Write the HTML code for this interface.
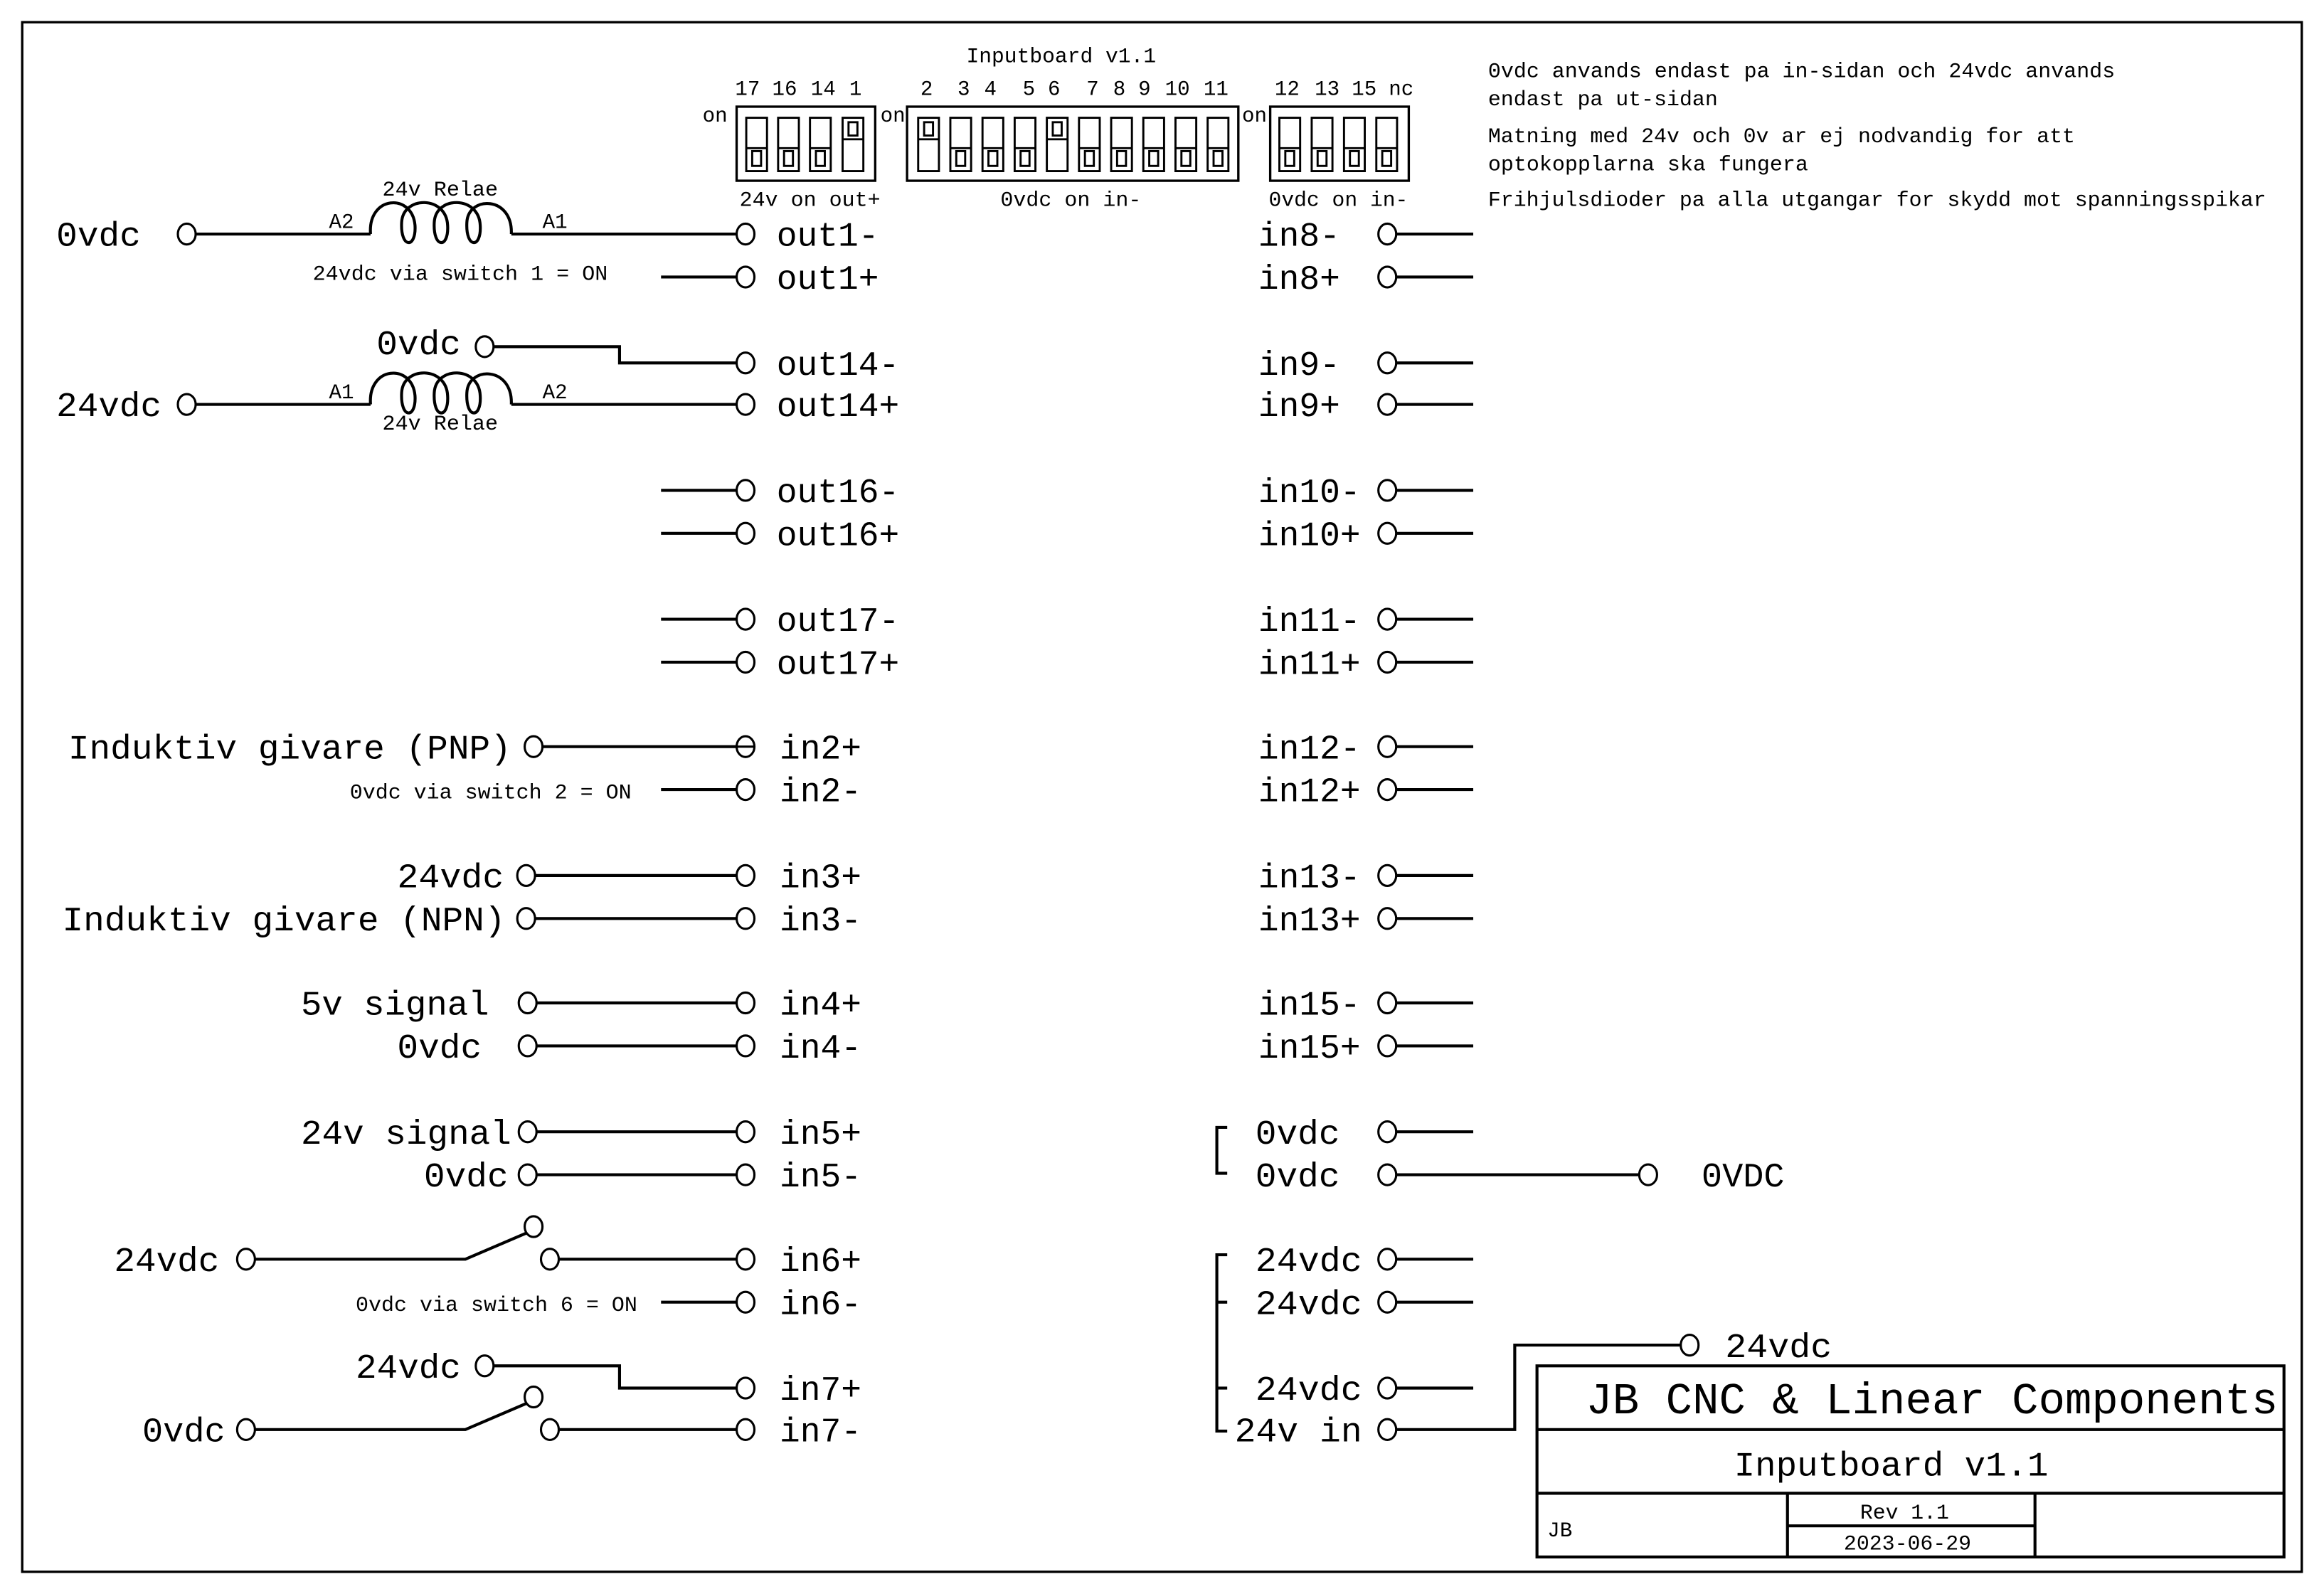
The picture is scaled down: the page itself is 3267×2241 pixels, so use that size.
<!DOCTYPE html>
<html><head><meta charset="utf-8"><style>
html,body{margin:0;padding:0;background:#fff;}
svg{display:block;}
text{font-family:"Liberation Mono","DejaVu Sans Mono",monospace;fill:#000;}
.b{font-size:23px;}
.s{font-size:14px;}
.t{font-size:30px;}
.m{font-size:23px;}
</style></head><body>
<svg width="3267" height="2241" viewBox="0 0 1568 1076" preserveAspectRatio="none" xmlns="http://www.w3.org/2000/svg">
<rect x="0" y="0" width="1568" height="1076" fill="#fff"/>
<g fill="none" stroke="#000" stroke-width="1.6">
<rect x="15" y="15" width="1538" height="1046"/>
<!-- DIP boxes -->
<rect x="497" y="72" width="93.5" height="50"/>
<rect x="612" y="72" width="223.5" height="50"/>
<rect x="857" y="72" width="93.5" height="50"/>
</g>
<g fill="none" stroke="#000" stroke-width="1.4">
<!-- box1 slots: off,off,off,on -->
<rect x="503.5" y="79.5" width="14" height="36"/><line x1="503.5" y1="100" x2="517.5" y2="100"/><rect x="507.5" y="102" width="6" height="10"/>
<rect x="525" y="79.5" width="14" height="36"/><line x1="525" y1="100" x2="539" y2="100"/><rect x="529" y="102" width="6" height="10"/>
<rect x="546.5" y="79.5" width="14" height="36"/><line x1="546.5" y1="100" x2="560.5" y2="100"/><rect x="550.5" y="102" width="6" height="10"/>
<rect x="568.5" y="79.5" width="14" height="36"/><line x1="568.5" y1="94" x2="582.5" y2="94"/><rect x="572.5" y="82.5" width="6" height="9"/>
<!-- box2 -->
<rect x="619.5" y="79.5" width="14" height="36"/><line x1="619.5" y1="94" x2="633.5" y2="94"/><rect x="623.5" y="82.5" width="6" height="9"/>
<rect x="641.2" y="79.5" width="14" height="36"/><line x1="641.2" y1="100" x2="655.2" y2="100"/><rect x="645.2" y="102" width="6" height="10"/>
<rect x="662.9" y="79.5" width="14" height="36"/><line x1="662.9" y1="100" x2="676.9" y2="100"/><rect x="666.9" y="102" width="6" height="10"/>
<rect x="684.6" y="79.5" width="14" height="36"/><line x1="684.6" y1="100" x2="698.6" y2="100"/><rect x="688.6" y="102" width="6" height="10"/>
<rect x="706.3" y="79.5" width="14" height="36"/><line x1="706.3" y1="94" x2="720.3" y2="94"/><rect x="710.3" y="82.5" width="6" height="9"/>
<rect x="728" y="79.5" width="14" height="36"/><line x1="728" y1="100" x2="742" y2="100"/><rect x="732" y="102" width="6" height="10"/>
<rect x="749.7" y="79.5" width="14" height="36"/><line x1="749.7" y1="100" x2="763.7" y2="100"/><rect x="753.7" y="102" width="6" height="10"/>
<rect x="771.4" y="79.5" width="14" height="36"/><line x1="771.4" y1="100" x2="785.4" y2="100"/><rect x="775.4" y="102" width="6" height="10"/>
<rect x="793.1" y="79.5" width="14" height="36"/><line x1="793.1" y1="100" x2="807.1" y2="100"/><rect x="797.1" y="102" width="6" height="10"/>
<rect x="814.8" y="79.5" width="14" height="36"/><line x1="814.8" y1="100" x2="828.8" y2="100"/><rect x="818.8" y="102" width="6" height="10"/>
<!-- box3 -->
<rect x="863.2" y="79.5" width="14" height="36"/><line x1="863.2" y1="100" x2="877.2" y2="100"/><rect x="867.2" y="102" width="6" height="10"/>
<rect x="885" y="79.5" width="14" height="36"/><line x1="885" y1="100" x2="899" y2="100"/><rect x="889" y="102" width="6" height="10"/>
<rect x="906.8" y="79.5" width="14" height="36"/><line x1="906.8" y1="100" x2="920.8" y2="100"/><rect x="910.8" y="102" width="6" height="10"/>
<rect x="928.6" y="79.5" width="14" height="36"/><line x1="928.6" y1="100" x2="942.6" y2="100"/><rect x="932.6" y="102" width="6" height="10"/>
</g>
<g fill="none" stroke="#000" stroke-width="2">
<!-- relay 1 -->
<line x1="126" y1="158" x2="250" y2="158"/><line x1="345" y1="158" x2="503" y2="158"/>
<path d="M250,158 C248,132 278,130 280,152 C281,168 270,168 271,150 C272,132 301,132 302,152 C303,168 292,168 293,150 C294,132 323,132 324,152 C325,168 314,168 315,150 C316,132 346,132 345,158"/>
<line x1="446" y1="187" x2="503" y2="187"/>
<polyline points="327,234 418,234 418,245 503,245"/>
<!-- relay 2 -->
<line x1="126" y1="273" x2="250" y2="273"/><line x1="345" y1="273" x2="503" y2="273"/>
<path d="M250,273 C248,247 278,245 280,267 C281,283 270,283 271,265 C272,247 301,247 302,267 C303,283 292,283 293,265 C294,247 323,247 324,267 C325,283 314,283 315,265 C316,247 346,247 345,273"/>
<line x1="446" y1="331" x2="503" y2="331"/><line x1="446" y1="360" x2="503" y2="360"/>
<line x1="446" y1="418" x2="503" y2="418"/><line x1="446" y1="447" x2="503" y2="447"/>
<line x1="360" y1="504" x2="503" y2="504"/>
<line x1="446" y1="533" x2="503" y2="533"/>
<line x1="355" y1="591" x2="503" y2="591"/><line x1="355" y1="620" x2="503" y2="620"/>
<line x1="356" y1="677" x2="503" y2="677"/><line x1="356" y1="706" x2="503" y2="706"/>
<line x1="356" y1="764" x2="503" y2="764"/><line x1="356" y1="793" x2="503" y2="793"/>
<polyline points="166,850 314,850 356,832"/><line x1="371" y1="850" x2="503" y2="850"/>
<line x1="446" y1="879" x2="503" y2="879"/>
<polyline points="327,922 418,922 418,937 503,937"/>
<polyline points="166,965 314,965 356,947"/><line x1="371" y1="965" x2="503" y2="965"/>
<!-- right side -->
<line x1="936" y1="158" x2="994" y2="158"/><line x1="936" y1="187" x2="994" y2="187"/>
<line x1="936" y1="245" x2="994" y2="245"/><line x1="936" y1="273" x2="994" y2="273"/>
<line x1="936" y1="331" x2="994" y2="331"/><line x1="936" y1="360" x2="994" y2="360"/>
<line x1="936" y1="418" x2="994" y2="418"/><line x1="936" y1="447" x2="994" y2="447"/>
<line x1="936" y1="504" x2="994" y2="504"/><line x1="936" y1="533" x2="994" y2="533"/>
<line x1="936" y1="591" x2="994" y2="591"/><line x1="936" y1="620" x2="994" y2="620"/>
<line x1="936" y1="677" x2="994" y2="677"/><line x1="936" y1="706" x2="994" y2="706"/>
<line x1="936" y1="764" x2="994" y2="764"/><line x1="936" y1="793" x2="1112" y2="793"/>
<line x1="936" y1="850" x2="994" y2="850"/><line x1="936" y1="879" x2="994" y2="879"/>
<line x1="936" y1="937" x2="994" y2="937"/>
<polyline points="936,965 1022,965 1022,908 1140,908"/>
<polyline points="828,761 821,761 821,792 828,792"/>
<polyline points="828,847 821,847 821,966 828,966"/>
<line x1="821" y1="879" x2="828" y2="879"/><line x1="821" y1="937" x2="828" y2="937"/>
<!-- title block -->
<rect x="1037" y="922" width="504" height="129"/>
<line x1="1037" y1="965" x2="1541" y2="965"/><line x1="1037" y1="1008" x2="1541" y2="1008"/>
<line x1="1206" y1="1008" x2="1206" y2="1051"/><line x1="1373" y1="1008" x2="1373" y2="1051"/>
<line x1="1206" y1="1030" x2="1373" y2="1030"/>
</g>
<g fill="#fff" stroke="#000" stroke-width="1.5">
<ellipse cx="126" cy="158" rx="6" ry="7"/><ellipse cx="126" cy="273" rx="6" ry="7"/><ellipse cx="327" cy="234" rx="6" ry="7"/>
<ellipse cx="360" cy="504" rx="6" ry="7"/><ellipse cx="355" cy="591" rx="6" ry="7"/><ellipse cx="355" cy="620" rx="6" ry="7"/>
<ellipse cx="356" cy="677" rx="6" ry="7"/><ellipse cx="356" cy="706" rx="6" ry="7"/><ellipse cx="356" cy="764" rx="6" ry="7"/><ellipse cx="356" cy="793" rx="6" ry="7"/>
<ellipse cx="166" cy="850" rx="6" ry="7"/><ellipse cx="360" cy="828" rx="6" ry="7"/><ellipse cx="371" cy="850" rx="6" ry="7"/>
<ellipse cx="327" cy="922" rx="6" ry="7"/><ellipse cx="166" cy="965" rx="6" ry="7"/><ellipse cx="360" cy="943" rx="6" ry="7"/><ellipse cx="371" cy="965" rx="6" ry="7"/>
<ellipse cx="503" cy="158" rx="6" ry="7"/><ellipse cx="503" cy="187" rx="6" ry="7"/><ellipse cx="503" cy="245" rx="6" ry="7"/><ellipse cx="503" cy="273" rx="6" ry="7"/>
<ellipse cx="503" cy="331" rx="6" ry="7"/><ellipse cx="503" cy="360" rx="6" ry="7"/><ellipse cx="503" cy="418" rx="6" ry="7"/><ellipse cx="503" cy="447" rx="6" ry="7"/>
<ellipse cx="503" cy="504" rx="6" ry="7"/><ellipse cx="503" cy="533" rx="6" ry="7"/><ellipse cx="503" cy="591" rx="6" ry="7"/><ellipse cx="503" cy="620" rx="6" ry="7"/>
<ellipse cx="503" cy="677" rx="6" ry="7"/><ellipse cx="503" cy="706" rx="6" ry="7"/><ellipse cx="503" cy="764" rx="6" ry="7"/><ellipse cx="503" cy="793" rx="6" ry="7"/>
<ellipse cx="503" cy="850" rx="6" ry="7"/><ellipse cx="503" cy="879" rx="6" ry="7"/><ellipse cx="503" cy="937" rx="6" ry="7"/><ellipse cx="503" cy="965" rx="6" ry="7"/>
<ellipse cx="936" cy="158" rx="6" ry="7"/><ellipse cx="936" cy="187" rx="6" ry="7"/><ellipse cx="936" cy="245" rx="6" ry="7"/><ellipse cx="936" cy="273" rx="6" ry="7"/>
<ellipse cx="936" cy="331" rx="6" ry="7"/><ellipse cx="936" cy="360" rx="6" ry="7"/><ellipse cx="936" cy="418" rx="6" ry="7"/><ellipse cx="936" cy="447" rx="6" ry="7"/>
<ellipse cx="936" cy="504" rx="6" ry="7"/><ellipse cx="936" cy="533" rx="6" ry="7"/><ellipse cx="936" cy="591" rx="6" ry="7"/><ellipse cx="936" cy="620" rx="6" ry="7"/>
<ellipse cx="936" cy="677" rx="6" ry="7"/><ellipse cx="936" cy="706" rx="6" ry="7"/><ellipse cx="936" cy="764" rx="6" ry="7"/><ellipse cx="936" cy="793" rx="6" ry="7"/>
<ellipse cx="936" cy="850" rx="6" ry="7"/><ellipse cx="936" cy="879" rx="6" ry="7"/><ellipse cx="936" cy="937" rx="6" ry="7"/><ellipse cx="936" cy="965" rx="6" ry="7"/>
<ellipse cx="1112" cy="793" rx="6" ry="7"/><ellipse cx="1140" cy="908" rx="6" ry="7"/>
</g>
<g fill="none" stroke="#000" stroke-width="1.5">
<line x1="497" y1="504" x2="509" y2="504"/>
</g>
<!-- texts -->
<text class="s" x="652" y="42" textLength="128" lengthAdjust="spacingAndGlyphs">Inputboard v1.1</text>
<g class="s">
<text x="496" y="64">17</text><text x="521" y="64">16</text><text x="547" y="64">14</text><text x="573" y="64">1</text>
<text x="621" y="64">2</text><text x="646" y="64">3</text><text x="664" y="64">4</text><text x="690" y="64">5</text><text x="707" y="64">6</text>
<text x="733" y="64">7</text><text x="751" y="64">8</text><text x="768" y="64">9</text><text x="786" y="64">10</text><text x="812" y="64">11</text>
<text x="860" y="64">12</text><text x="887" y="64">13</text><text x="912" y="64">15</text><text x="937" y="64">nc</text>
<text x="474" y="82">on</text><text x="594" y="82">on</text><text x="838" y="82">on</text>
<text x="499" y="139" textLength="95" lengthAdjust="spacingAndGlyphs">24v on out+</text>
<text x="675" y="139" textLength="95" lengthAdjust="spacingAndGlyphs">0vdc on in-</text>
<text x="856" y="139" textLength="94" lengthAdjust="spacingAndGlyphs">0vdc on in-</text>
<text x="1004" y="52" textLength="423" lengthAdjust="spacingAndGlyphs">0vdc anvands endast pa in-sidan och 24vdc anvands</text>
<text x="1004" y="71" textLength="155" lengthAdjust="spacingAndGlyphs">endast pa ut-sidan</text>
<text x="1004" y="96" textLength="396" lengthAdjust="spacingAndGlyphs">Matning med 24v och 0v ar ej nodvandig for att</text>
<text x="1004" y="115" textLength="216" lengthAdjust="spacingAndGlyphs">optokopplarna ska fungera</text>
<text x="1004" y="139" textLength="525" lengthAdjust="spacingAndGlyphs">Frihjulsdioder pa alla utgangar for skydd mot spanningsspikar</text>
<text x="258" y="132" textLength="78" lengthAdjust="spacingAndGlyphs">24v Relae</text>
<text x="258" y="290" textLength="78" lengthAdjust="spacingAndGlyphs">24v Relae</text>
<text x="222" y="154">A2</text><text x="366" y="154">A1</text>
<text x="222" y="269">A1</text><text x="366" y="269">A2</text>
<text x="211" y="189" textLength="199" lengthAdjust="spacingAndGlyphs">24vdc via switch 1 = ON</text>
<text x="236" y="539" textLength="190" lengthAdjust="spacingAndGlyphs">0vdc via switch 2 = ON</text>
<text x="240" y="885" textLength="190" lengthAdjust="spacingAndGlyphs">0vdc via switch 6 = ON</text>
<text x="1255" y="1025" textLength="60" lengthAdjust="spacingAndGlyphs">Rev 1.1</text>
<text x="1244" y="1046" textLength="86" lengthAdjust="spacingAndGlyphs">2023-06-29</text>
<text x="1044" y="1037">JB</text>
</g>
<g class="b">
<text x="38" y="166" textLength="57" lengthAdjust="spacingAndGlyphs">0vdc</text>
<text x="254" y="239" textLength="57" lengthAdjust="spacingAndGlyphs">0vdc</text>
<text x="38" y="281" textLength="71" lengthAdjust="spacingAndGlyphs">24vdc</text>
<text x="46" y="512" textLength="299" lengthAdjust="spacingAndGlyphs">Induktiv givare (PNP)</text>
<text x="268" y="599" textLength="72" lengthAdjust="spacingAndGlyphs">24vdc</text>
<text x="42" y="628" textLength="299" lengthAdjust="spacingAndGlyphs">Induktiv givare (NPN)</text>
<text x="203" y="685" textLength="127" lengthAdjust="spacingAndGlyphs">5v signal</text>
<text x="268" y="714" textLength="57" lengthAdjust="spacingAndGlyphs">0vdc</text>
<text x="203" y="772" textLength="142" lengthAdjust="spacingAndGlyphs">24v signal</text>
<text x="286" y="801" textLength="57" lengthAdjust="spacingAndGlyphs">0vdc</text>
<text x="77" y="858" textLength="71" lengthAdjust="spacingAndGlyphs">24vdc</text>
<text x="240" y="930" textLength="71" lengthAdjust="spacingAndGlyphs">24vdc</text>
<text x="96" y="973" textLength="56" lengthAdjust="spacingAndGlyphs">0vdc</text>
<text x="524" y="166">out1-</text><text x="524" y="195">out1+</text>
<text x="524" y="253">out14-</text><text x="524" y="281">out14+</text>
<text x="524" y="339">out16-</text><text x="524" y="368">out16+</text>
<text x="524" y="426">out17-</text><text x="524" y="455">out17+</text>
<text x="526" y="512">in2+</text><text x="526" y="541">in2-</text>
<text x="526" y="599">in3+</text><text x="526" y="628">in3-</text>
<text x="526" y="685">in4+</text><text x="526" y="714">in4-</text>
<text x="526" y="772">in5+</text><text x="526" y="801">in5-</text>
<text x="526" y="858">in6+</text><text x="526" y="887">in6-</text>
<text x="526" y="945">in7+</text><text x="526" y="973">in7-</text>
<text x="849" y="166">in8-</text><text x="849" y="195">in8+</text>
<text x="849" y="253">in9-</text><text x="849" y="281">in9+</text>
<text x="849" y="339">in10-</text><text x="849" y="368">in10+</text>
<text x="849" y="426">in11-</text><text x="849" y="455">in11+</text>
<text x="849" y="512">in12-</text><text x="849" y="541">in12+</text>
<text x="849" y="599">in13-</text><text x="849" y="628">in13+</text>
<text x="849" y="685">in15-</text><text x="849" y="714">in15+</text>
<text x="847" y="772" textLength="57" lengthAdjust="spacingAndGlyphs">0vdc</text>
<text x="847" y="801" textLength="57" lengthAdjust="spacingAndGlyphs">0vdc</text>
<text x="1148" y="801" textLength="56" lengthAdjust="spacingAndGlyphs">0VDC</text>
<text x="847" y="858" textLength="72" lengthAdjust="spacingAndGlyphs">24vdc</text>
<text x="847" y="887" textLength="72" lengthAdjust="spacingAndGlyphs">24vdc</text>
<text x="847" y="945" textLength="72" lengthAdjust="spacingAndGlyphs">24vdc</text>
<text x="833" y="973" textLength="86" lengthAdjust="spacingAndGlyphs">24v in</text>
<text x="1164" y="916" textLength="72" lengthAdjust="spacingAndGlyphs">24vdc</text>
</g>
<text class="t" x="1070" y="954" textLength="467" lengthAdjust="spacingAndGlyphs">JB CNC &amp; Linear Components</text>
<text class="m" x="1170" y="996" textLength="212" lengthAdjust="spacingAndGlyphs">Inputboard v1.1</text>
</svg>
</body></html>
